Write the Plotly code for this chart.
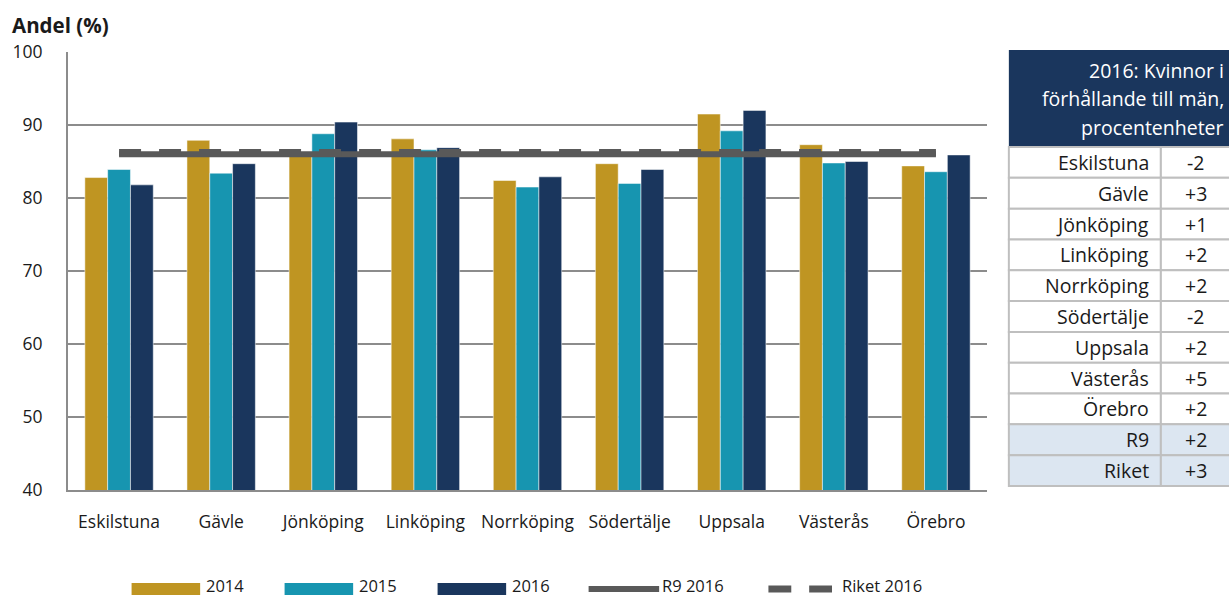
import plotly.graph_objects as go

# ---------------- data ----------------
categories = ["Eskilstuna", "Gävle", "Jönköping", "Linköping", "Norrköping",
              "Södertälje", "Uppsala", "Västerås", "Örebro"]
v2014 = [82.8, 87.9, 86.0, 88.1, 82.4, 84.7, 91.5, 87.3, 84.4]
v2015 = [83.9, 83.4, 88.8, 86.6, 81.5, 82.0, 89.2, 84.8, 83.6]
v2016 = [81.8, 84.7, 90.4, 86.9, 82.9, 83.9, 92.0, 85.0, 85.9]
r9_2016 = 86.0
riket_2016 = 86.25
series_names = ["2014", "2015", "2016", "R9 2016", "Riket 2016"]
y_ticks = [40, 50, 60, 70, 80, 90, 100]

table_header = ["2016: Kvinnor i", "förhållande till män,", "procentenheter"]
table_names = ["Eskilstuna", "Gävle", "Jönköping", "Linköping", "Norrköping",
               "Södertälje", "Uppsala", "Västerås", "Örebro", "R9", "Riket"]
table_values = ["-2", "+3", "+1", "+2", "+2", "-2", "+2", "+5", "+2", "+2", "+3"]

# ---------------- style ----------------
W, H = 1229, 597
L, R, T, B = 62, 987, 52, 490   # plot area in pixels
C14, C15, C16 = "#BF9522", "#1795B0", "#1A365D"
LINEC = "#595959"
GRID = "#8C8C8C"
FONT = "Open Sans, Noto Sans, sans-serif"
TXT = "#1a1a1a"


def px(x):
    return (x - L) / (R - L)


def py(y):
    return (B - y) / (B - T)


fig = go.Figure()
for vals, col, name in zip([v2014, v2015, v2016], [C14, C15, C16], series_names[:3]):
    fig.add_trace(go.Bar(x=categories, y=vals, name=name, marker_color=col,
                         marker_line=dict(color="rgba(255,255,255,0.5)", width=1),
                         showlegend=False))

fig.add_trace(go.Scatter(x=categories, y=[r9_2016] * len(categories), mode="lines",
                         name=series_names[3], line=dict(color=LINEC, width=6),
                         showlegend=False))
fig.add_trace(go.Scatter(x=categories, y=[riket_2016] * len(categories), mode="lines",
                         name=series_names[4],
                         line=dict(color=LINEC, width=7, dash="22px,18px"),
                         showlegend=False))

shapes = []
annotations = []

# y-axis title
annotations.append(dict(xref="paper", yref="paper", x=px(4), y=py(25), xanchor="left",
                        yanchor="middle", text="<b>Andel (%)</b>", showarrow=False,
                        font=dict(family=FONT, size=20.5, color=TXT)))

# ---------------- table ----------------
tx0, tx1, tx2 = 1009, 1162, 1245
hy0, hy1 = 50, 147
row_h = (486 - hy1) / len(table_names)
shapes.append(dict(type="rect", xref="paper", yref="paper", x0=px(tx0), x1=px(tx2),
                   y0=py(hy0), y1=py(hy1), fillcolor=C16, line=dict(width=0), layer="above"))
for i, line_txt in enumerate(table_header):
    annotations.append(dict(xref="paper", yref="paper", x=px(1228), y=py(hy0 + 20 + i * 28.5),
                            xanchor="right", yanchor="middle", text=line_txt, showarrow=False,
                            font=dict(family=FONT, size=19.5, color="white")))
for i, (nm, val) in enumerate(zip(table_names, table_values)):
    y0 = hy1 + i * row_h
    y1 = y0 + row_h
    fill = "#DCE6F1" if i >= 9 else "white"
    shapes.append(dict(type="rect", xref="paper", yref="paper", x0=px(tx0), x1=px(tx1),
                       y0=py(y0), y1=py(y1), fillcolor=fill,
                       line=dict(color="#BFBFBF", width=2)))
    shapes.append(dict(type="rect", xref="paper", yref="paper", x0=px(tx1), x1=px(tx2),
                       y0=py(y0), y1=py(y1), fillcolor=fill,
                       line=dict(color="#BFBFBF", width=2)))
    annotations.append(dict(xref="paper", yref="paper", x=px(1152), y=py((y0 + y1) / 2),
                            xanchor="right", yanchor="middle", text=nm, showarrow=False,
                            font=dict(family=FONT, size=19.5, color=TXT)))
    annotations.append(dict(xref="paper", yref="paper", x=px(1197), y=py((y0 + y1) / 2),
                            xanchor="center", yanchor="middle", text=val, showarrow=False,
                            font=dict(family=FONT, size=19.5, color=TXT)))

# ---------------- custom legend ----------------
ly = 589
lty = 585.5
leg_items = [
    ("bar", C14, 126, 195, 200),
    ("bar", C15, 280, 349, 354),
    ("bar", C16, 434, 503, 508),
    ("solid", LINEC, 586, 657, 659),
    ("dash", LINEC, 767, 831, 840),
]
for (kind, col, x0, x1, tx), name in zip(leg_items, series_names):
    if kind == "bar":
        shapes.append(dict(type="rect", xref="paper", yref="paper", x0=px(x0), x1=px(x1),
                           y0=py(ly - 6), y1=py(ly + 6), fillcolor=col, line=dict(width=0)))
    elif kind == "solid":
        shapes.append(dict(type="line", xref="paper", yref="paper", x0=px(x0), x1=px(x1),
                           y0=py(ly), y1=py(ly), line=dict(color=col, width=6)))
    else:
        shapes.append(dict(type="line", xref="paper", yref="paper", x0=px(x0), x1=px(x0 + 23),
                           y0=py(ly), y1=py(ly), line=dict(color=col, width=7)))
        shapes.append(dict(type="line", xref="paper", yref="paper", x0=px(x1 - 23), x1=px(x1),
                           y0=py(ly), y1=py(ly), line=dict(color=col, width=7)))
    annotations.append(dict(xref="paper", yref="paper", x=px(tx), y=py(lty), xanchor="left",
                            yanchor="middle", text=name, showarrow=False, borderpad=0,
                            font=dict(family=FONT, size=16.5, color=TXT)))

fig.update_layout(
    width=W, height=H,
    margin=dict(l=L, r=W - R, t=T, b=H - B, pad=0),
    paper_bgcolor="white", plot_bgcolor="white",
    barmode="group", bargap=0.33, bargroupgap=0,
    font=dict(family=FONT, size=17, color=TXT),
    shapes=shapes, annotations=annotations,
    showlegend=False,
    xaxis=dict(showgrid=False, showline=True, linecolor=GRID, linewidth=2,
               ticks="outside", ticklen=15, tickcolor="rgba(0,0,0,0)",
               tickfont=dict(family=FONT, size=17.5, color=TXT)),
    yaxis=dict(range=[40, 100], tickvals=y_ticks, showgrid=True, gridcolor=GRID,
               gridwidth=2, showline=True, linecolor=GRID, linewidth=2, zeroline=False,
               ticks="outside", ticklen=20, tickcolor="rgba(0,0,0,0)",
               tickfont=dict(family=FONT, size=17.5, color=TXT)),
)

fig.write_html("out.html", config={"displayModeBar": False},
               post_script="document.body.style.margin='0';")
